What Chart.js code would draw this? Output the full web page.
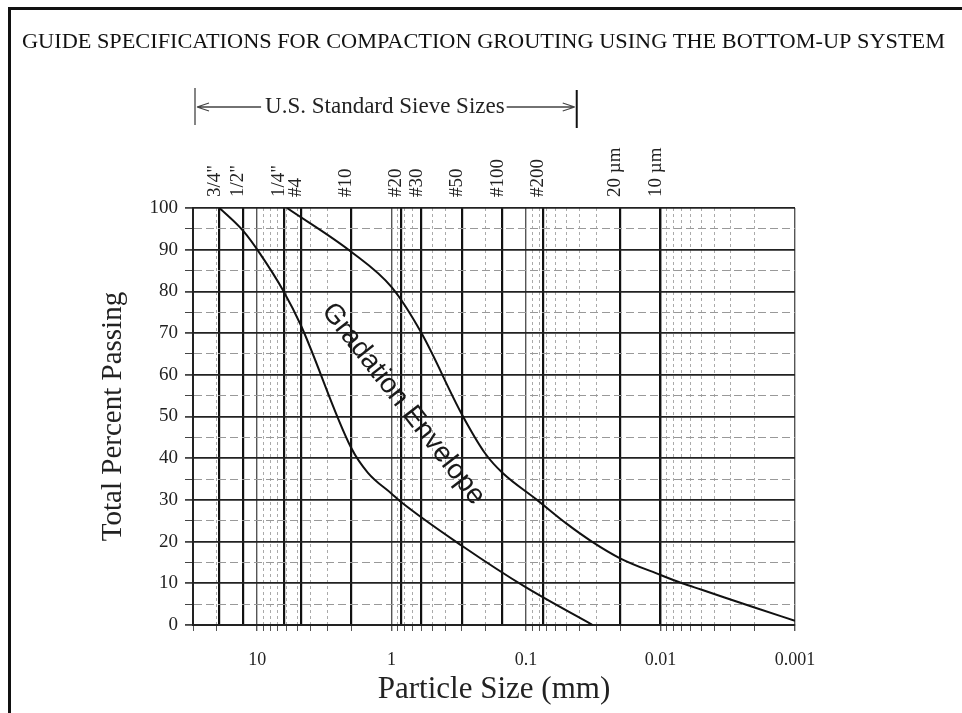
<!DOCTYPE html>
<html>
<head>
<meta charset="utf-8">
<script src="https://cdn.jsdelivr.net/npm/chart.js@4.4.0/dist/chart.umd.min.js"></script>
<style>
  html, body { margin: 0; padding: 0; background: #fff; }
  #wrap { width: 962px; height: 713px; }
</style>
</head>
<body>
<div id="wrap"><canvas id="gradChart"></canvas></div>
<script>
// sieve openings (mm) and the names printed along the top
const sieveSizes  = [19.05, 12.7, 6.35, 4.75, 2.0, 0.85, 0.6, 0.3, 0.15, 0.075, 0.02, 0.01];
const sieveLabels = ['3/4"', '1/2"', '1/4"', '#4', '#10', '#20', '#30', '#50', '#100', '#200', '20 µm', '10 µm'];

// labels under the plot
const decadeValues = [10, 1, 0.1, 0.01, 0.001];
const decadeLabels = ['10', '1', '0.1', '0.01', '0.001'];
const gridSteps = [1, 2, 3, 4, 5, 6, 7, 8, 9];

// gradation envelope (size in mm, % passing)
const coarseSize = [19.05, 12.7, 9.5, 6.35, 4.75, 2.0, 1.5, 1.0, 0.85, 0.3, 0.1, 0.032];
const coarsePct  = [100, 94.5, 89, 80, 72, 42.5, 36.5, 31.5, 29.5, 19, 9, 0];
const fineSize = [6.0, 2.0, 1.0, 0.6, 0.3, 0.2, 0.15, 0.083, 0.05, 0.0324, 0.02, 0.01, 0.0069, 0.005, 0.002, 0.001];
const finePct  = [100, 89.5, 81, 70, 50.5, 41, 36.5, 30, 24.3, 20, 16, 12, 10, 8.5, 4.2, 1];

const SERIF = '"Liberation Serif", "DejaVu Serif", serif';
const X_MIN = 0.001, X_MAX = 30;

// log grid lines 1..9 x each decade inside the range
const gridValues = [];
[-3, -2, -1, 0, 1].forEach(e => {
  gridSteps.forEach(m => {
    const v = +(m * Math.pow(10, e)).toPrecision(6);
    if (v >= X_MIN && v <= X_MAX) gridValues.push(v);
  });
});

function isDecade(v) {
  return decadeValues.some(d => Math.abs(Math.log10(v) - Math.log10(d)) < 1e-6);
}

const toPoints = (sizes, pcts) => sizes.map((s, i) => ({ x: s, y: pcts[i] }));

// heading, sieve bracket, envelope note and the page frame
const sheetDecor = {
  id: 'sheetDecor',
  afterDraw(chart) {
    const { ctx, chartArea, scales } = chart;
    const x = scales.x, y = scales.y;
    ctx.save();

    ctx.strokeStyle = '#111';
    ctx.lineWidth = 3;
    ctx.beginPath();
    ctx.moveTo(9.5, 713);
    ctx.lineTo(9.5, 8.5);
    ctx.lineTo(962, 8.5);
    ctx.stroke();

    // heading, squeezed to the width it has on the sheet
    const heading = 'GUIDE SPECIFICATIONS FOR COMPACTION GROUTING USING THE BOTTOM-UP SYSTEM';
    ctx.fillStyle = '#111';
    ctx.font = '22px ' + SERIF;
    ctx.textBaseline = 'middle';
    ctx.textAlign = 'left';
    const hw = ctx.measureText(heading).width;
    ctx.save();
    ctx.translate(22, 42);
    ctx.scale(923 / hw, 1);
    ctx.fillText(heading, 0, 0);
    ctx.restore();

    // U.S. Standard Sieve Sizes bracket
    const bl = chartArea.left + 2;
    const br = x.getPixelForValue(0.042);
    const by = 107;
    const label = 'U.S. Standard Sieve Sizes';
    ctx.font = '23px ' + SERIF;
    ctx.textAlign = 'center';
    const tw = ctx.measureText(label).width;
    const tc = (bl + br) / 2 - 1;
    ctx.fillStyle = '#222';
    ctx.fillText(label, tc, by);
    ctx.strokeStyle = '#444';
    ctx.lineWidth = 1.3;
    ctx.beginPath();
    ctx.moveTo(bl, by - 19); ctx.lineTo(bl, by + 18);
    ctx.moveTo(bl + 2, by); ctx.lineTo(tc - tw / 2 - 4, by);
    ctx.moveTo(bl + 2, by); ctx.lineTo(bl + 14, by - 4);
    ctx.moveTo(bl + 2, by); ctx.lineTo(bl + 14, by + 4);
    ctx.moveTo(tc + tw / 2 + 2, by); ctx.lineTo(br - 2, by);
    ctx.moveTo(br - 2, by); ctx.lineTo(br - 14, by - 4);
    ctx.moveTo(br - 2, by); ctx.lineTo(br - 14, by + 4);
    ctx.stroke();
    ctx.strokeStyle = '#111';
    ctx.lineWidth = 2;
    ctx.beginPath();
    ctx.moveTo(br, by - 17); ctx.lineTo(br, by + 21);
    ctx.stroke();

    // envelope note
    const ex = x.getPixelForValue(0.82), ey = y.getPixelForValue(53);
    ctx.save();
    ctx.translate(ex, ey);
    ctx.rotate(52 * Math.PI / 180);
    ctx.font = '28px "Liberation Sans", Arial, sans-serif';
    ctx.fillStyle = '#1a1a1a';
    ctx.textAlign = 'center';
    ctx.fillText('Gradation Envelope', 0, 0);
    ctx.restore();

    ctx.restore();
  }
};

const ctx = document.getElementById('gradChart').getContext('2d');
const gradChart = new Chart(ctx, {
  type: 'line',
  data: {
    datasets: [
      {
        label: 'Coarse limit',
        data: toPoints(coarseSize, coarsePct),
        borderColor: '#111',
        borderWidth: 2,
        pointRadius: 0,
        cubicInterpolationMode: 'monotone',
        fill: false
      },
      {
        label: 'Fine limit',
        data: toPoints(fineSize, finePct),
        borderColor: '#111',
        borderWidth: 2,
        pointRadius: 0,
        cubicInterpolationMode: 'monotone',
        fill: false
      }
    ]
  },
  options: {
    responsive: true,
    maintainAspectRatio: false,
    animation: false,
    layout: { padding: { left: 0, top: 0, right: 167, bottom: 0 } },
    plugins: {
      legend: { display: false },
      tooltip: { enabled: false },
      title: { display: false }
    },
    scales: {
      x: {
        type: 'logarithmic',
        position: 'bottom',
        reverse: true,
        min: X_MIN,
        max: X_MAX,
        afterBuildTicks: (scale) => {
          scale.ticks = gridValues.map(v => ({ value: v, major: isDecade(v) }));
        },
        afterFit: (scale) => { scale.height = 88; },
        ticks: {
          autoSkip: false,
          maxRotation: 0,
          minRotation: 0,
          padding: 18,
          color: '#222',
          font: { family: SERIF, size: 18 },
          callback: (v) => {
            const i = decadeValues.findIndex(d => Math.abs(Math.log10(v) - Math.log10(d)) < 1e-6);
            return i >= 0 ? decadeLabels[i] : '';
          }
        },
        grid: {
          color: (c) => (c.tick && c.tick.major ? '#555' : '#aaa'),
          lineWidth: (c) => (c.tick && c.tick.major ? 1.4 : 1),
          tickLength: 6,
          tickColor: '#555'
        },
        border: {
          display: true,
          color: '#222',
          width: 2,
          dash: (c) => (c.tick && !c.tick.major ? [3, 3] : [])
        },
        title: {
          display: true,
          text: 'Particle Size (mm)',
          color: '#222',
          font: { family: SERIF, size: 31 },
          padding: { top: 0, bottom: 5 }
        }
      },
      x2: {
        type: 'logarithmic',
        position: 'top',
        reverse: true,
        min: X_MIN,
        max: X_MAX,
        afterBuildTicks: (scale) => {
          scale.ticks = sieveSizes.map(v => ({ value: v }));
        },
        afterFit: (scale) => { scale.height = 208; },
        ticks: {
          autoSkip: false,
          maxRotation: 90,
          minRotation: 90,
          padding: 11,
          labelOffset: 18,
          color: '#222',
          font: { family: SERIF, size: 19 },
          callback: (v, i) => sieveLabels[i]
        },
        grid: {
          color: '#111',
          lineWidth: 2.2,
          drawTicks: false
        },
        border: { display: false }
      },
      y: {
        type: 'linear',
        position: 'left',
        min: 0,
        max: 100,
        afterFit: (scale) => { scale.width = 193; },
        ticks: {
          stepSize: 5,
          autoSkip: false,
          padding: 7,
          color: '#222',
          font: { family: SERIF, size: 19 },
          callback: (v) => (v % 10 === 0 ? v : '')
        },
        grid: {
          color: (c) => (c.tick && c.tick.value % 10 === 0 ? '#222' : '#999'),
          lineWidth: (c) => (c.tick && c.tick.value % 10 === 0 ? 1.8 : 1),
          tickLength: 8,
          tickColor: '#444'
        },
        border: {
          display: true,
          color: '#222',
          width: 2,
          dash: (c) => (c.tick && c.tick.value % 10 !== 0 ? [8, 4] : [])
        },
        title: {
          display: true,
          text: 'Total Percent Passing',
          color: '#222',
          font: { family: SERIF, size: 29 },
          padding: { top: 96, bottom: 0 }
        }
      }
    }
  },
  plugins: [sheetDecor]
});
</script>
</body>
</html>
